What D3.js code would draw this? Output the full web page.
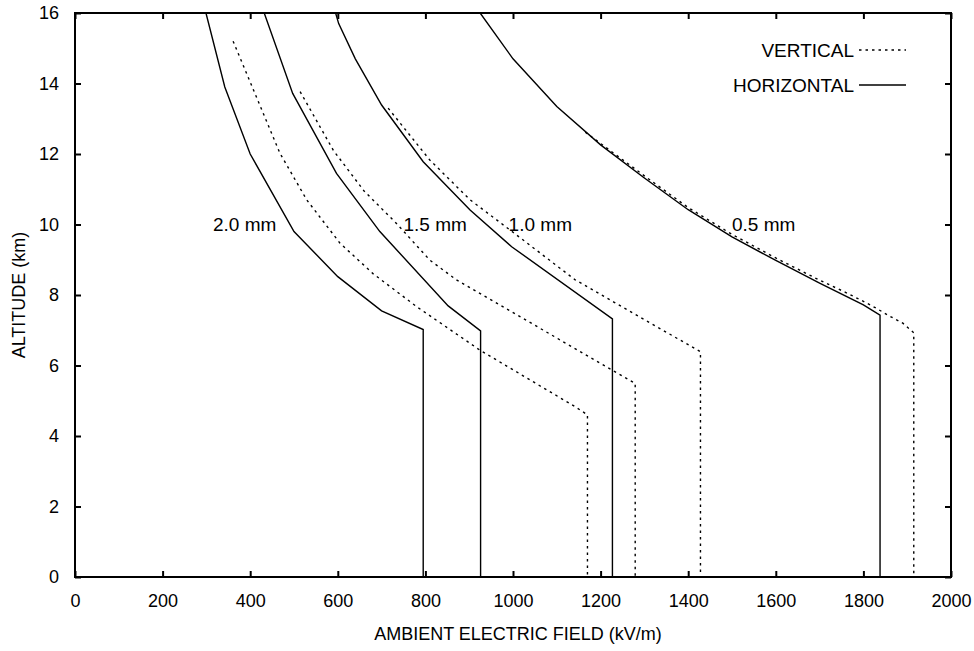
<!DOCTYPE html>
<meta charset="utf-8">
<style>
body { margin: 0; background: #fff; }
text { font-family: 'Liberation Sans', Arial, sans-serif; font-size: 18px; fill: #000; }
.mm, .leg { font-size: 19px; }
.curve { fill: none; stroke: #000; stroke-width: 1.4; }
.dotted { stroke-dasharray: 2.5,4; }
.axis path.domain { display: none; }
.axis line { stroke: #000; stroke-width: 2; }
</style>
<body>
<script src="https://d3js.org/d3.v7.min.js"></script>
<script>

// tick labels
var xTicks = [0, 200, 400, 600, 800, 1000, 1200, 1400, 1600, 1800, 2000];
var yTicks = [0, 2, 4, 6, 8, 10, 12, 14, 16];

// drop diameters (labels and where they sit)
var diameters = ["2.0 mm", "1.5 mm", "1.0 mm", "0.5 mm"];
var labelField = [315, 750, 990, 1500];
var labelAlt = [10, 10, 10, 10];

// horizontal field (solid) : field kV/m, altitude km
var h20Field = [299, 342, 400, 500, 600, 700, 795, 795];
var h20Alt   = [16, 13.9, 12, 9.8, 8.52, 7.55, 7.02, 0];
var h15Field = [432, 497, 597, 696, 852, 926, 926];
var h15Alt   = [16, 13.72, 11.45, 9.8, 7.69, 6.98, 0];
var h10Field = [595, 602, 640, 700, 795, 902, 997, 1227, 1227];
var h10Alt   = [16, 15.7, 14.7, 13.39, 11.78, 10.41, 9.37, 7.32, 0];
var h05Field = [925, 1000, 1100, 1200, 1300, 1400, 1500, 1600, 1700, 1800, 1838, 1838];
var h05Alt   = [16, 14.7, 13.35, 12.26, 11.32, 10.42, 9.65, 8.98, 8.34, 7.72, 7.43, 0];

// vertical field (dotted)
var v20Field = [361, 468, 529, 605, 681, 780, 924, 1142, 1170, 1170];
var v20Alt   = [15.2, 12.02, 10.7, 9.47, 8.6, 7.67, 6.44, 4.83, 4.6, 0];
var v15Field = [514, 590, 660, 734, 810, 871, 1279, 1279];
var v15Alt   = [13.77, 12.1, 10.95, 10.03, 8.99, 8.43, 5.49, 0];
var v10Field = [715, 810, 902, 1000, 1142, 1230, 1428, 1428];
var v10Alt   = [13.3, 11.83, 10.7, 9.78, 8.43, 7.8, 6.39, 0];
var v05Field = [1165, 1300, 1400, 1500, 1600, 1700, 1760, 1800, 1830, 1860, 1890, 1915, 1915];
var v05Alt   = [12.62, 11.38, 10.48, 9.72, 9.05, 8.42, 8.07, 7.82, 7.62, 7.4, 7.2, 6.93, 0];

var margin = {top: 13, right: 23, bottom: 74, left: 75},
    width = 974 - margin.left - margin.right,
    height = 651 - margin.top - margin.bottom;

var x = d3.scaleLinear().domain([0, 2000]).range([0, width]);
var y = d3.scaleLinear().domain([0, 16]).range([height, 0]);

var svg = d3.select("body").append("svg")
    .attr("width", 974)
    .attr("height", 651)
  .append("g")
    .attr("transform", "translate(" + margin.left + "," + margin.top + ")");

svg.append("clipPath").attr("id", "clip")
  .append("rect").attr("width", width).attr("height", height);

// axes, ticks point inwards on all four sides
svg.append("g").attr("class", "axis")
    .attr("transform", "translate(0," + height + ")")
    .call(d3.axisBottom(x).tickValues(xTicks).tickSize(-6).tickPadding(17).tickFormat(d3.format("d")));
svg.append("g").attr("class", "axis")
    .call(d3.axisTop(x).tickValues(xTicks).tickSize(-6).tickFormat(""));
svg.append("g").attr("class", "axis")
    .call(d3.axisLeft(y).tickValues(yTicks).tickSize(-6).tickPadding(16).tickFormat(d3.format("d")));
svg.append("g").attr("class", "axis")
    .attr("transform", "translate(" + width + ",0)")
    .call(d3.axisRight(y).tickValues(yTicks).tickSize(-6).tickFormat(""));

svg.selectAll(".axis text").style("font-size", "18px").style("font-family", "'Liberation Sans', Arial, sans-serif");

var line = d3.line()
    .x(function(d) { return x(d[0]); })
    .y(function(d) { return y(d[1]); });

function pairs(f, a) { return f.map(function(v, i) { return [v, a[i]]; }); }

var solid = [pairs(h20Field, h20Alt), pairs(h15Field, h15Alt), pairs(h10Field, h10Alt), pairs(h05Field, h05Alt)];
var dotted = [pairs(v20Field, v20Alt), pairs(v15Field, v15Alt), pairs(v10Field, v10Alt), pairs(v05Field, v05Alt)];

var plot = svg.append("g").attr("clip-path", "url(#clip)");
plot.selectAll(".solid").data(solid).enter().append("path")
    .attr("class", "curve solid").attr("d", line);
plot.selectAll(".dotted").data(dotted).enter().append("path")
    .attr("class", "curve dotted").attr("d", line);

// frame
svg.append("rect")
    .attr("width", width).attr("height", height)
    .attr("fill", "none").attr("stroke", "#000").attr("stroke-width", 2);

// curve labels
svg.selectAll(".mm").data(diameters).enter().append("text")
    .attr("class", "mm")
    .attr("x", function(d, i) { return x(labelField[i]); })
    .attr("y", function(d, i) { return y(labelAlt[i]); })
    .attr("dy", "0.35em")
    .text(function(d) { return d; });

// legend
var legend = [["VERTICAL", "curve dotted"], ["HORIZONTAL", "curve solid"]];
legend.forEach(function(l, i) {
  var ly = 37 + i * 35;
  svg.append("text").attr("class", "leg").attr("x", 779).attr("y", ly).attr("dy", "0.35em")
      .style("text-anchor", "end").text(l[0]);
  svg.append("line").attr("class", l[1])
      .attr("x1", 784).attr("x2", 831).attr("y1", ly).attr("y2", ly);
});

// axis titles
svg.append("text")
    .attr("x", 443).attr("y", height + 63)
    .style("text-anchor", "middle")
    .text("AMBIENT ELECTRIC FIELD (kV/m)");
svg.append("text")
    .attr("transform", "rotate(-90)")
    .attr("x", -height / 2).attr("y", -56)
    .attr("dy", "0.35em")
    .style("text-anchor", "middle")
    .text("ALTITUDE (km)");

</script>
</body>
